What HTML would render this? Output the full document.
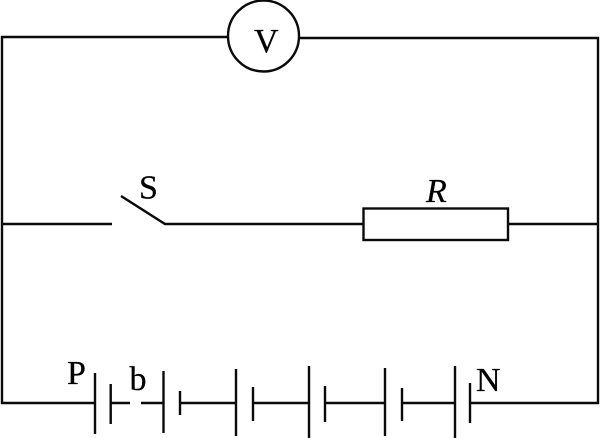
<!DOCTYPE html>
<html>
<head>
<meta charset="utf-8">
<style>
html,body{margin:0;padding:0;background:#fff;width:600px;height:438px;overflow:hidden}
svg{display:block}
text{font-family:"Liberation Serif",serif;font-size:34px;fill:#000;stroke:#000;stroke-width:.25px}
</style>
</head>
<body>
<svg width="600" height="438" viewBox="0 0 600 438" xmlns="http://www.w3.org/2000/svg">
<g fill="none" stroke="#0a0a0a" stroke-width="2.400">
<path d="M228 37H2V403H95"/>
<path d="M299 38H598V403H470"/>
<circle cx="263.500" cy="36" r="35.500"/>
<path d="M2 224H112"/>
<path d="M121 196L165 224H364"/>
<rect x="363.500" y="208.500" width="144.500" height="31.500"/>
<path d="M508 224H598"/>
<path d="M95 373V434"/>
<path d="M110.700 384V424"/>
<path d="M111 403H130"/>
<path d="M141 403H163"/>
<path d="M163.500 371V433"/>
<path d="M180 391V415"/>
<path d="M180 403H236"/>
<path d="M236 369V436"/>
<path d="M253 387V421"/>
<path d="M253 403H309"/>
<path d="M309 366V438"/>
<path d="M325 386V422"/>
<path d="M325 403H385"/>
<path d="M385 368V436"/>
<path d="M402 388V421"/>
<path d="M402 403H455"/>
<path d="M455 366V438"/>
<path d="M470 383V423"/>
</g>
<text x="254" y="52">V</text>
<text x="139" y="198.500">S</text>
<text x="426" y="202" font-style="italic">R</text>
<text x="67" y="384">P</text>
<text x="129.500" y="390">b</text>
<text x="476" y="391">N</text>
</svg>
</body>
</html>
